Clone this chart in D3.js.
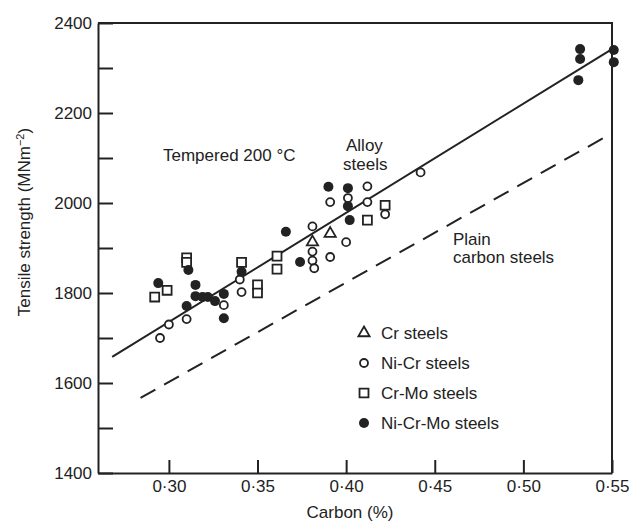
<!DOCTYPE html>
<html>
<head>
<meta charset="utf-8">
<script src="https://cdn.jsdelivr.net/npm/d3@7"></script>
<style>
  body { margin: 0; background: #fff; }
  text { font-family: "Liberation Sans", Arial, sans-serif; fill: #222; }
</style>
</head>
<body>
<svg id="drawing_region"></svg>
<script>
// data
const crX = [0.381, 0.391];
const crY = [1913, 1932];

const niCrX = [0.295, 0.300, 0.310, 0.331, 0.340, 0.341, 0.381, 0.381, 0.381, 0.382, 0.391, 0.400, 0.391, 0.401, 0.412, 0.412, 0.422, 0.442];
const niCrY = [1700, 1730, 1742, 1773, 1830, 1802, 1948, 1892, 1872, 1855, 1880, 1913, 2002, 2011, 2037, 2002, 1975, 2068];

const crMoX = [0.292, 0.299, 0.310, 0.310, 0.341, 0.350, 0.350, 0.361, 0.361, 0.412, 0.422];
const crMoY = [1791, 1806, 1878, 1868, 1868, 1818, 1800, 1882, 1853, 1962, 1995];

const niCrMoX = [0.294, 0.311, 0.315, 0.315, 0.319, 0.322, 0.310, 0.326, 0.331, 0.331, 0.341, 0.366, 0.374, 0.390, 0.401, 0.401, 0.402, 0.532, 0.532, 0.531, 0.551, 0.551];
const niCrMoY = [1822, 1851, 1818, 1793, 1791, 1791, 1771, 1782, 1798, 1744, 1847, 1936, 1869, 2036, 2033, 1993, 1962, 2342, 2320, 2273, 2340, 2313];

const alloyLine = [[0.268, 1658], [0.55, 2342]];
const plainLine = [[0.284, 1567], [0.55, 2155]];

const xTicks = [0.30, 0.35, 0.40, 0.45, 0.50, 0.55];
const yTicks = [1400, 1500, 1600, 1700, 1800, 1900, 2000, 2100, 2200, 2300, 2400];
const legendNames = ["Cr steels", "Ni-Cr steels", "Cr-Mo steels", "Ni-Cr-Mo steels"];

const width = 630, height = 522;
const margin = { top: 23, right: 18, bottom: 49, left: 98 };
const innerW = width - margin.left - margin.right;
const innerH = height - margin.top - margin.bottom;

const svg = d3.select('#drawing_region')
    .attr('width', width)
    .attr('height', height);

const chart = svg.append('g')
    .attr('transform', `translate(${margin.left}, ${margin.top})`);

const xscale = d3.scaleLinear().domain([0.26, 0.55]).range([0, innerW]);
const yscale = d3.scaleLinear().domain([1400, 2400]).range([innerH, 0]);

const fmtX = d => d3.format('.2f')(d).replace('.', '\u00b7');

// axes, ticks pointing inward
const xaxis = d3.axisBottom(xscale)
    .tickValues(xTicks)
    .tickFormat(fmtX)
    .tickSizeInner(-13)
    .tickSizeOuter(0)
    .tickPadding(7);

const yaxis = d3.axisLeft(yscale)
    .tickValues(yTicks)
    .tickFormat(d => d % 200 === 0 ? d : '')
    .tickSizeInner(-15)
    .tickSizeOuter(0)
    .tickPadding(6);

const xg = chart.append('g')
    .attr('transform', `translate(0, ${innerH})`)
    .call(xaxis);
const yg = chart.append('g').call(yaxis);

[xg, yg].forEach(g => {
    g.selectAll('path, line').attr('stroke', '#222').attr('stroke-width', 2);
    g.selectAll('text').style('font-size', '17px').attr('fill', '#222');
});

// frame top and right
chart.append('path')
    .attr('d', `M0,0H${innerW}V${innerH}`)
    .attr('fill', 'none')
    .attr('stroke', '#222')
    .attr('stroke-width', 2);

// fit lines
const line = d3.line().x(d => xscale(d[0])).y(d => yscale(d[1]));
chart.append('path')
    .attr('d', line(alloyLine))
    .attr('fill', 'none')
    .attr('stroke', '#222')
    .attr('stroke-width', 2);
chart.append('path')
    .attr('d', line(plainLine))
    .attr('fill', 'none')
    .attr('stroke', '#222')
    .attr('stroke-width', 2)
    .attr('stroke-dasharray', '17,10');

// points
const zip = (xs, ys) => xs.map((x, i) => ({ x: x, y: ys[i] }));
const triangle = d3.symbol().type(d3.symbolTriangle).size(55);
const square = d3.symbol().type(d3.symbolSquare).size(80);

chart.selectAll('.nicr').data(zip(niCrX, niCrY)).enter()
    .append('circle')
    .attr('cx', d => xscale(d.x))
    .attr('cy', d => yscale(d.y))
    .attr('r', 4)
    .attr('fill', '#fff')
    .attr('stroke', '#222')
    .attr('stroke-width', 1.8);

chart.selectAll('.crmo').data(zip(crMoX, crMoY)).enter()
    .append('path')
    .attr('d', square)
    .attr('transform', d => `translate(${xscale(d.x)},${yscale(d.y)})`)
    .attr('fill', '#fff')
    .attr('stroke', '#222')
    .attr('stroke-width', 1.8);

chart.selectAll('.cr').data(zip(crX, crY)).enter()
    .append('path')
    .attr('d', triangle)
    .attr('transform', d => `translate(${xscale(d.x)},${yscale(d.y)})`)
    .attr('fill', '#fff')
    .attr('stroke', '#222')
    .attr('stroke-width', 1.8);

chart.selectAll('.nicrmo').data(zip(niCrMoX, niCrMoY)).enter()
    .append('circle')
    .attr('cx', d => xscale(d.x))
    .attr('cy', d => yscale(d.y))
    .attr('r', 5)
    .attr('fill', '#222');

// annotations
const note = (x, y, s) => svg.append('text')
    .attr('x', x).attr('y', y)
    .style('font-size', '17px')
    .text(s);
note(163, 161, 'Tempered 200 \u00b0C');
note(346, 151, 'Alloy');
note(343, 170, 'steels');
note(453, 245, 'Plain');
note(453, 263, 'carbon steels');

// legend
const leg = svg.append('g').attr('transform', 'translate(364, 333)');
const rows = leg.selectAll('g').data(legendNames).enter()
    .append('g')
    .attr('transform', (d, i) => `translate(0, ${i * 30})`);
rows.append('text')
    .attr('x', 17).attr('dy', '0.35em')
    .style('font-size', '17px')
    .text(d => d);
rows.filter((d, i) => i === 0).append('path')
    .attr('d', triangle).attr('fill', '#fff').attr('stroke', '#222').attr('stroke-width', 1.8);
rows.filter((d, i) => i === 1).append('circle')
    .attr('r', 4).attr('fill', '#fff').attr('stroke', '#222').attr('stroke-width', 1.8);
rows.filter((d, i) => i === 2).append('path')
    .attr('d', square).attr('fill', '#fff').attr('stroke', '#222').attr('stroke-width', 1.8);
rows.filter((d, i) => i === 3).append('circle')
    .attr('r', 5).attr('fill', '#222');

// axis titles
svg.append('text')
    .attr('x', 350).attr('y', 518)
    .attr('text-anchor', 'middle')
    .style('font-size', '17px')
    .text('Carbon (%)');

const ytitle = svg.append('text')
    .attr('transform', 'translate(30, 222) rotate(-90)')
    .attr('text-anchor', 'middle')
    .style('font-size', '17px');
ytitle.append('tspan').text('Tensile strength (MNm');
ytitle.append('tspan').attr('baseline-shift', 'super').style('font-size', '11px').text('\u22122');
ytitle.append('tspan').text(')');
</script>
</body>
</html>
